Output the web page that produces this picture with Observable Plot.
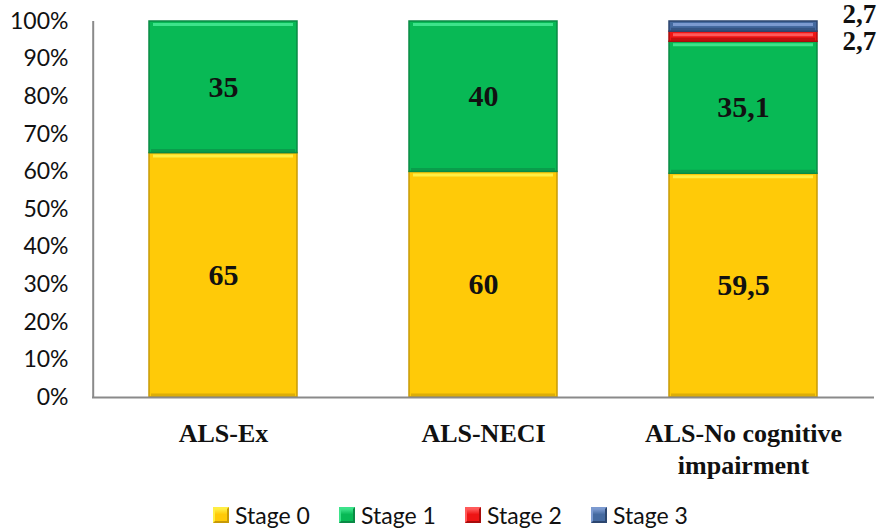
<!DOCTYPE html>
<html>
<head>
<meta charset="utf-8">
<script src="https://cdn.jsdelivr.net/npm/d3@7"></script>
<script src="https://cdn.jsdelivr.net/npm/@observablehq/plot@0.6"></script>
<style>
  html, body { margin: 0; padding: 0; background: #fff; }
  #chart svg { display: block; }
  .legend { display: flex; justify-content: flex-start; margin-left: 213px; margin-top: 12px;
            font-family: Lato, "Open Sans", sans-serif; font-size: 23px; line-height: 26px; color: #111; }
  .legend .item { display: flex; align-items: center; width: 126px; }
  .legend .sw { width: 16px; height: 16px; margin-right: 6px; box-sizing: border-box; border: 2px solid; }
</style>
</head>
<body>
<div id="chart"></div>
<script>
// Distribution of stages per patient group (percent of each group)
const categories = ["ALS-Ex", "ALS-NECI", "ALS-No cognitive impairment"];
const stages = ["Stage 0", "Stage 1", "Stage 2", "Stage 3"];
const stage0 = [65, 60, 59.5];
const stage1 = [35, 40, 35.1];
const stage2 = [0, 0, 2.7];
const stage3 = [0, 0, 2.7];
const yTicks = [0, 10, 20, 30, 40, 50, 60, 70, 80, 90, 100];

const fillColor = {"Stage 0": "#FFCA08", "Stage 1": "#08B955", "Stage 2": "#EE1515", "Stage 3": "#456AA0"};
const lightColor = {"Stage 0": "#FFEE44", "Stage 1": "#3DE38A", "Stage 2": "#FF5A5A", "Stage 3": "#7C9AD0"};
const darkColor = {"Stage 0": "#C79A06", "Stage 1": "#0A8A45", "Stage 2": "#A80C0C", "Stage 3": "#2C466F"};

const series = [stage0, stage1, stage2, stage3];
const rows = [];
categories.forEach((c, i) => {
  stages.forEach((s, j) => {
    if (series[j][i] > 0) rows.push({group: c, stage: s, value: series[j][i]});
  });
});

const fmt = v => String(v).replace(".", ",");
const stackOpts = {x: "group", y: "value", z: "stage"};
const serif = "'Liberation Serif', 'Times New Roman', serif";

const plot = Plot.plot({
  width: 885,
  height: 490,
  marginTop: 21,
  marginBottom: 93,
  marginLeft: 92,
  marginRight: 11,
  x: {domain: categories, padding: 0, label: null},
  y: {domain: [0, 100], label: null},
  color: {type: "identity"},
  style: {background: "#fff"},
  marks: [
    Plot.barY(rows, Plot.stackY({...stackOpts, fill: d => fillColor[d.stage],
      stroke: d => darkColor[d.stage], strokeWidth: 1.5, insetLeft: 56, insetRight: 56})),
    // bevel highlights along the top edge and shading along the bottom edge
    Plot.tickY(rows, Plot.stackY2({...stackOpts, stroke: d => lightColor[d.stage],
      strokeWidth: 3, inset: 60, dy: 3})),
    Plot.tickY(rows, Plot.stackY1({...stackOpts, stroke: d => darkColor[d.stage],
      strokeWidth: 3, inset: 58, dy: -2.5, strokeOpacity: 0.6})),
    Plot.ruleY([0], {stroke: "#8a8a8a", strokeWidth: 2}),
    Plot.ruleX([categories[0]], {x: () => categories[0], y1: 0, y2: 100, stroke: "#8a8a8a", strokeWidth: 2, dx: -130.3}),
    Plot.axisY({ticks: yTicks, tickFormat: d => d + "%", tickSize: 0, tickPadding: 24,
      fontSize: 23, fontFamily: "Lato, 'Open Sans', sans-serif", fill: "#111", label: null}),
    Plot.axisX({tickSize: 0, tickPadding: 22, fontSize: 26, fontWeight: "bold",
      fontFamily: serif, fill: "#111", lineHeight: 1.23,
      tickFormat: d => d.replace("ALS-No cognitive ", "ALS-No cognitive\n"), label: null}),
    // values inside the larger segments
    Plot.text(rows, Plot.stackY({...stackOpts, text: d => d.value >= 5 ? fmt(d.value) : "",
      fontSize: 30, fontWeight: "bold", fontFamily: serif, fill: "#111"})),
    // small segments labelled beside the bar
    Plot.text(rows, Plot.stackY({...stackOpts, text: d => d.stage === "Stage 3" ? fmt(d.value) : "",
      textAnchor: "start", dx: 99, dy: -12,
      fontSize: 27, fontWeight: "bold", fontFamily: serif, fill: "#111"})),
    Plot.text(rows, Plot.stackY({...stackOpts, text: d => d.stage === "Stage 2" ? fmt(d.value) : "",
      textAnchor: "start", dx: 99, dy: 5,
      fontSize: 27, fontWeight: "bold", fontFamily: serif, fill: "#111"}))
  ]
});
document.getElementById("chart").appendChild(plot);

// legend below the chart
const legend = document.createElement("div");
legend.className = "legend";
stages.forEach(s => {
  const item = document.createElement("div");
  item.className = "item";
  const sw = document.createElement("span");
  sw.className = "sw";
  sw.style.background = `linear-gradient(${lightColor[s]}, ${fillColor[s]} 45%)`;
  sw.style.borderColor = `${lightColor[s]} ${darkColor[s]} ${darkColor[s]} ${lightColor[s]}`;
  const label = document.createElement("span");
  label.textContent = s;
  item.appendChild(sw);
  item.appendChild(label);
  legend.appendChild(item);
});
document.getElementById("chart").appendChild(legend);
</script>
</body>
</html>
